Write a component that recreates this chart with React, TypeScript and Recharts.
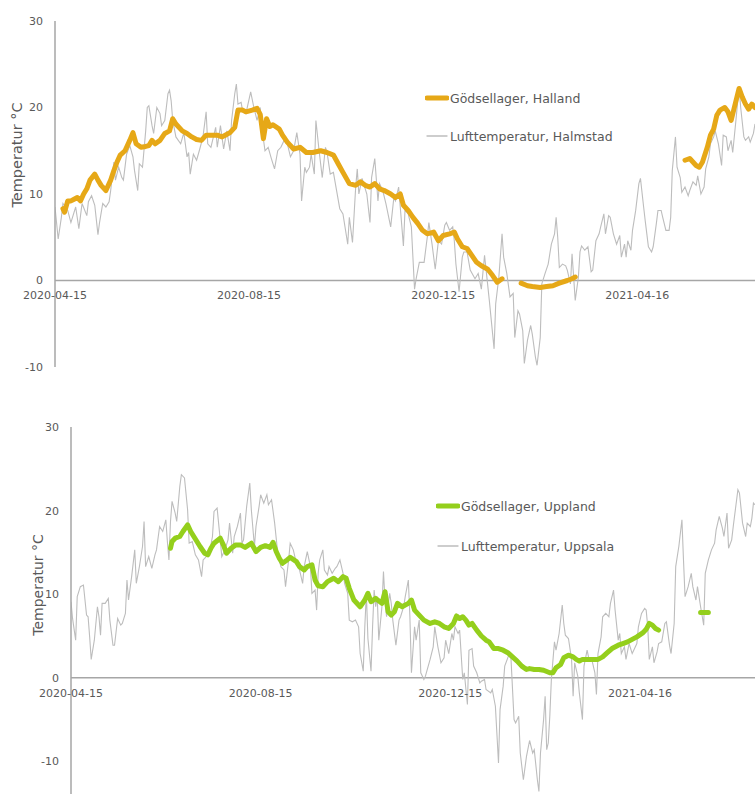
import { LineChart, Line, XAxis, YAxis, ReferenceLine, ReferenceDot } from 'recharts';

// days counted from 2020-04-15
const tickDays = [0, 122, 244, 366];
const tickLabels = ['2020-04-15', '2020-08-15', '2020-12-15', '2021-04-16'];
const yTicksTop = [-10, 0, 10, 20, 30];
const yTicksBottom = [-10, 0, 10, 20, 30];

const legendHalland = ['Gödsellager, Halland', 'Lufttemperatur, Halmstad'];
const legendUppland = ['Gödsellager, Uppland', 'Lufttemperatur, Uppsala'];

type Pt = [number, number | null];

const halmstadAir: Pt[] = [
  [0, 8.5], [2, 4.8], [4, 7.3], [5, 8.9], [8, 8.1], [10, 6.7], [13, 8.5], [15, 6.0], [17, 8.9], [20, 7.5],
  [21, 9.1], [23, 9.8], [25, 8.7], [27, 5.3], [28, 6.7], [30, 8.9], [32, 8.5], [34, 9.1], [35, 10.4], [37, 13.7],
  [38, 11.6], [40, 13.1], [42, 11.9], [43, 11.6], [45, 14.6], [47, 15.6], [49, 14.3], [50, 12.7], [52, 10.4], [53, 13.5],
  [55, 13.1], [57, 17.3], [58, 20.0], [59, 20.2], [61, 17.9], [62, 17.0], [64, 20.0], [66, 19.3], [67, 17.9], [69, 18.5],
  [71, 21.6], [72, 22.0], [73, 20.8], [74, 18.5], [76, 16.6], [79, 15.8], [81, 17.1], [83, 14.3], [84, 14.8], [85, 12.3],
  [87, 14.6], [89, 13.9], [91, 15.2], [93, 16.6], [95, 19.5], [96, 15.8], [98, 15.4], [101, 17.7], [102, 15.4], [104, 17.9],
  [106, 15.2], [108, 17.3], [110, 15.0], [111, 18.5], [113, 21.6], [114, 22.7], [115, 20.4], [117, 20.6], [118, 19.5], [120, 19.3],
  [123, 21.8], [125, 20.0], [127, 18.5], [129, 20.0], [130, 17.7], [132, 15.0], [134, 15.4], [136, 14.1], [138, 12.9], [140, 15.0],
  [142, 15.4], [145, 16.6], [148, 14.3], [150, 15.0], [152, 17.1], [154, 14.6], [155, 9.2], [157, 13.1], [158, 12.5], [160, 13.1],
  [161, 14.6], [163, 12.3], [164, 18.5], [166, 15.0], [168, 11.9], [170, 15.4], [171, 14.8], [173, 12.3], [175, 12.5], [177, 10.4],
  [179, 8.3], [181, 7.7], [184, 4.2], [185, 7.3], [187, 4.4], [189, 10.8], [190, 12.9], [191, 10.0], [193, 11.8], [196, 10.0],
  [198, 6.7], [199, 11.9], [201, 14.1], [203, 9.2], [204, 11.2], [206, 10.4], [208, 8.9], [211, 6.2], [213, 9.6], [214, 9.2],
  [216, 10.8], [219, 4.0], [220, 8.1], [222, 7.7], [224, 6.2], [226, -1.0], [227, 0.2], [229, 2.1], [232, 2.1], [234, 5.0],
  [235, 6.7], [237, 4.2], [239, 1.3], [241, 4.6], [243, 4.2], [245, 6.4], [246, 6.7], [248, 5.8], [250, 6.2], [251, 4.6],
  [252, 1.9], [254, -1.3], [256, 2.7], [257, 3.3], [259, 3.3], [261, 1.2], [264, 0.2], [266, 0.8], [268, -1.0], [270, 2.9],
  [271, 1.2], [273, -2.3], [276, -7.9], [277, -2.7], [279, 0.4], [281, 5.4], [282, 2.7], [284, 0.8], [286, -1.9], [288, -1.5],
  [289, -6.6], [291, -3.5], [292, -3.9], [294, -5.8], [295, -9.6], [297, -6.9], [299, -5.2], [300, -6.2], [302, -8.9], [303, -9.8],
  [305, -6.6], [306, -0.4], [308, 0.8], [310, 1.9], [312, 4.2], [314, 5.4], [315, 7.3], [316, 5.0], [317, 1.5], [319, 1.9],
  [321, 1.7], [322, 1.2], [324, -0.4], [325, 3.1], [327, -2.3], [329, 0.4], [330, 3.3], [331, 4.0], [333, 3.5], [335, 3.9],
  [337, 1.0], [338, 1.2], [340, 4.6], [342, 5.4], [343, 6.2], [345, 7.7], [346, 5.4], [348, 7.5], [349, 7.3], [351, 5.4],
  [353, 4.2], [355, 5.2], [356, 2.7], [358, 4.2], [359, 2.7], [360, 4.6], [362, 3.5], [363, 5.8], [365, 8.1], [367, 11.2],
  [368, 11.8], [370, 8.5], [371, 6.9], [373, 3.9], [375, 3.3], [376, 3.9], [378, 6.6], [379, 8.1], [381, 8.1], [382, 7.3],
  [384, 5.8], [386, 5.8], [387, 7.3], [388, 12.7], [390, 16.6], [391, 13.1], [393, 11.9], [394, 10.2], [396, 10.8], [398, 9.8],
  [399, 10.4], [401, 11.4], [403, 11.0], [404, 12.1], [406, 10.0], [408, 10.8], [409, 12.9], [411, 14.3], [412, 15.8], [414, 16.6],
  [415, 17.3], [417, 15.8], [419, 13.3], [420, 16.8], [422, 16.6], [423, 15.0], [425, 16.2], [426, 14.8], [428, 18.5], [430, 22.4],
  [431, 20.0], [433, 16.6], [434, 16.2], [436, 16.6], [437, 16.0], [439, 17.0], [440, 18.1],
];

const hallandManure: Pt[] = [
  [5, 8.3], [6, 7.9], [8, 9.2], [10, 9.2], [12, 9.4], [14, 9.6], [16, 9.2], [18, 10.0], [20, 10.6], [22, 11.6],
  [25, 12.3], [27, 11.6], [29, 11.0], [32, 10.4], [35, 11.6], [37, 12.7], [39, 13.7], [41, 14.5], [44, 15.0], [47, 16.2],
  [49, 17.1], [51, 15.8], [54, 15.4], [57, 15.5], [59, 15.6], [61, 16.2], [63, 15.8], [66, 16.2], [69, 17.0], [72, 17.3],
  [74, 18.7], [76, 18.1], [80, 17.3], [83, 17.0], [86, 16.6], [89, 16.3], [92, 16.2], [95, 16.8], [98, 16.8], [102, 16.8],
  [105, 16.6], [107, 16.8], [110, 17.1], [113, 17.7], [115, 19.7], [118, 19.7], [120, 19.5], [124, 19.7], [127, 19.9], [129, 19.2],
  [131, 16.4], [133, 18.7], [135, 17.8], [137, 18.0], [141, 17.5], [143, 16.8], [146, 16.0], [150, 15.2], [154, 15.4], [158, 14.8],
  [162, 14.8], [167, 15.0], [171, 14.8], [175, 14.5], [178, 13.5], [181, 12.5], [185, 11.2], [189, 11.0], [192, 11.4], [195, 11.0],
  [198, 10.8], [201, 11.2], [204, 10.6], [207, 10.4], [211, 10.0], [214, 9.6], [217, 10.0], [219, 8.7], [222, 8.1], [225, 7.3],
  [228, 6.6], [231, 5.8], [234, 5.4], [238, 5.6], [241, 4.6], [244, 5.2], [248, 5.4], [251, 5.6], [253, 4.8], [256, 3.9],
  [259, 3.7], [262, 2.9], [265, 2.1], [268, 1.7], [272, 1.3], [275, 0.6], [278, -0.2], [281, 0.2],
  [287, null],
  [293, -0.3], [297, -0.6], [300, -0.7], [305, -0.8], [309, -0.7], [313, -0.6], [317, -0.3], [322, 0.0], [325, 0.2], [327, 0.4],
  [360, null],
  [396, 13.9], [399, 14.1], [401, 13.7], [403, 13.3], [405, 13.1], [407, 13.7], [410, 15.4], [412, 16.8], [414, 17.5], [416, 19.1],
  [418, 19.7], [421, 20.0], [423, 19.5], [425, 18.5], [427, 20.0], [430, 22.2], [432, 21.2], [434, 20.4], [436, 19.8], [438, 20.4],
  [440, 20.0],
];

const uppsalaAir: Pt[] = [
  [0, 9.1], [1, 7.1], [3, 4.5], [4, 9.7], [6, 10.9], [8, 11.1], [10, 7.5], [11, 7.3], [12, 4.9], [13, 2.2],
  [15, 4.5], [17, 8.5], [18, 7.3], [19, 5.1], [20, 8.9], [22, 8.9], [24, 9.5], [25, 6.9], [27, 3.9], [28, 3.9],
  [30, 7.1], [32, 6.3], [33, 6.5], [35, 7.7], [36, 11.7], [37, 9.3], [39, 12.1], [41, 15.3], [42, 11.3], [44, 13.3],
  [46, 15.7], [47, 18.7], [48, 13.3], [50, 14.5], [52, 13.1], [54, 14.7], [55, 15.3], [57, 18.1], [59, 17.5], [61, 18.9],
  [62, 16.3], [63, 14.1], [64, 18.7], [65, 21.1], [67, 19.7], [68, 18.7], [70, 22.9], [71, 24.3], [73, 23.9], [75, 20.1],
  [76, 16.1], [78, 16.3], [80, 14.7], [82, 14.1], [84, 12.1], [85, 14.1], [87, 14.5], [89, 14.9], [91, 16.9], [92, 19.9],
  [94, 20.3], [96, 16.5], [97, 14.5], [99, 15.3], [101, 16.5], [102, 18.5], [104, 14.9], [105, 16.9], [107, 18.1], [109, 19.7],
  [110, 16.1], [111, 16.5], [113, 20.5], [115, 23.3], [116, 20.1], [118, 15.7], [119, 18.1], [121, 20.5], [122, 21.9], [124, 20.9],
  [126, 21.9], [127, 20.7], [129, 21.3], [131, 18.5], [133, 14.9], [135, 13.3], [137, 12.9], [138, 10.9], [140, 14.1], [141, 16.1],
  [143, 15.3], [145, 13.7], [147, 12.9], [149, 11.3], [150, 13.3], [152, 15.1], [154, 13.3], [155, 10.1], [157, 10.5], [158, 8.1],
  [159, 12.5], [160, 14.1], [162, 15.3], [163, 12.9], [165, 12.3], [166, 13.3], [168, 12.5], [170, 13.1], [171, 13.3], [173, 14.1],
  [175, 12.5], [176, 11.3], [178, 10.1], [179, 6.9], [181, 6.7], [183, 6.9], [185, 6.1], [186, 2.9], [188, 0.8], [189, 6.1],
  [190, 10.1], [191, 4.7], [193, 0.8], [194, 6.1], [195, 10.5], [196, 8.5], [197, 9.7], [198, 4.5], [200, 8.5], [201, 12.7],
  [202, 9.3], [203, 7.3], [205, 10.1], [206, 8.9], [207, 6.9], [209, 3.9], [211, 6.9], [212, 7.3], [214, 8.5], [215, 9.7],
  [217, 11.7], [218, 7.3], [219, 0.6], [221, 6.1], [222, 4.5], [224, 6.9], [225, 0.6], [227, -0.2], [228, 0.2], [231, 2.2],
  [233, 3.7], [234, 6.1], [236, 3.7], [238, 1.8], [240, 2.4], [241, 4.5], [243, 2.9], [245, 5.3], [246, 4.5], [247, 6.1],
  [249, 5.3], [250, 5.7], [252, -0.2], [253, 0.6], [255, -3.2], [256, 3.3], [258, 3.5], [259, 1.4], [261, 0.6], [263, -0.6],
  [264, -0.4], [266, -0.2], [267, -1.4], [270, -1.8], [271, -1.4], [273, -3.4], [275, -10.2], [276, -3.8], [278, -1.0], [279, 1.4],
  [282, 2.9], [283, 2.4], [285, -5.0], [286, -5.4], [288, -4.6], [289, -9.0], [291, -12.2], [293, -9.4], [295, -7.5], [297, -9.0],
  [298, -8.6], [300, -12.2], [301, -13.6], [302, -9.0], [304, -5.0], [305, -2.2], [306, -8.6], [307, -7.8], [308, -4.6], [309, -0.2],
  [311, 4.3], [312, 3.3], [314, 5.3], [316, 8.7], [317, 6.5], [318, 5.1], [320, 4.7], [322, 2.2], [323, -2.2], [324, 1.8],
  [326, 0.2], [327, -1.8], [329, -5.0], [330, 1.4], [332, 3.3], [333, 2.4], [335, 2.2], [337, 0.6], [338, -2.0], [339, 2.9],
  [341, 4.9], [342, 7.3], [344, 7.7], [346, 7.3], [347, 8.9], [349, 10.5], [350, 8.1], [352, 4.5], [353, 5.3], [354, 2.9],
  [356, 3.7], [357, 2.2], [359, 4.1], [361, 2.9], [362, 3.3], [364, 4.1], [365, 6.1], [367, 7.7], [369, 8.3], [370, 8.1],
  [371, 6.1], [372, 2.2], [374, 3.7], [375, 1.8], [377, 3.1], [378, 4.1], [380, 4.3], [382, 6.5], [383, 6.7], [385, 3.9],
  [386, 2.9], [388, 6.5], [389, 13.3], [391, 15.7], [393, 18.9], [394, 14.1], [395, 9.7], [397, 10.9], [399, 12.5], [400, 10.9],
  [402, 9.3], [403, 10.9], [405, 8.5], [407, 6.3], [408, 12.5], [410, 14.1], [412, 15.3], [414, 16.1], [415, 17.7], [417, 19.3],
  [419, 17.9], [420, 16.9], [422, 19.7], [423, 15.5], [425, 16.5], [426, 18.1], [429, 22.5], [430, 22.1], [432, 18.5], [434, 16.9],
  [435, 18.5], [437, 18.1], [438, 19.1], [439, 20.9], [440, 20.7],
];

const upplandManure: Pt[] = [
  [64, 15.5], [65, 16.3], [67, 16.7], [70, 16.9], [72, 17.5], [75, 18.3], [77, 17.5], [79, 16.9], [81, 16.3], [83, 15.7],
  [86, 14.9], [88, 14.7], [90, 15.5], [92, 16.1], [96, 16.7], [98, 15.9], [100, 14.9], [103, 15.5], [106, 15.9], [109, 15.9],
  [112, 15.6], [116, 16.1], [119, 15.1], [122, 15.6], [125, 15.8], [128, 15.6], [130, 16.2], [132, 15.1], [134, 14.3], [136, 13.7],
  [139, 14.1], [141, 14.4], [145, 13.9], [147, 13.3], [150, 12.9], [152, 13.3], [155, 13.5], [157, 11.7], [159, 11.0], [162, 10.9],
  [165, 11.5], [169, 11.9], [172, 11.5], [175, 12.1], [177, 11.9], [179, 10.7], [182, 9.3], [186, 8.5], [189, 9.3], [191, 10.1],
  [193, 9.1], [196, 9.5], [200, 8.9], [202, 10.3], [204, 7.9], [206, 7.5], [208, 7.9], [210, 8.9], [213, 8.5], [217, 8.9],
  [219, 9.3], [221, 8.1], [224, 7.5], [227, 6.9], [231, 6.5], [234, 6.7], [237, 6.5], [240, 6.1], [243, 5.9], [246, 6.5],
  [248, 7.4], [250, 7.1], [252, 7.3], [254, 6.9], [256, 6.3], [258, 6.5], [261, 5.7], [264, 5.0], [267, 4.5], [269, 4.3],
  [272, 3.5], [275, 3.5], [278, 3.3], [281, 3.0], [284, 2.5], [287, 2.0], [290, 1.4], [293, 1.0], [295, 1.1], [298, 1.0],
  [301, 1.0], [304, 0.9], [308, 0.6], [310, 0.6], [312, 1.2], [315, 1.6], [317, 2.4], [320, 2.7], [323, 2.5], [325, 2.2],
  [327, 2.0], [329, 2.2], [332, 2.2], [336, 2.2], [339, 2.2], [342, 2.5], [345, 3.0], [348, 3.5], [352, 3.9], [355, 4.1],
  [358, 4.3], [361, 4.6], [364, 4.9], [368, 5.4], [370, 5.8], [372, 6.5], [374, 6.3], [376, 5.9], [378, 5.7],
  [390, null],
  [405, 7.8], [410, 7.8],
];

const FONT = '"DejaVu Sans", Verdana, sans-serif';
const TEXT = '#595959';
const AXIS = '#A6A6A6';
const AIR = '#BDBDBD';
const GOLD = '#E6A817';
const GREEN = '#94CF1C';

const toRows = (pts: Pt[]) => pts.map(([day, t]) => ({ day, t }));

function Legend2({ names, color, top, left, gap }: { names: string[]; color: string; top: number; left: number; gap: number }) {
  const styles = [
    { stroke: color, w: 5 },
    { stroke: AIR, w: 1.3 },
  ];
  return (
    <div style={{ position: 'absolute', top, left, fontFamily: FONT, fontSize: 12.5, color: TEXT }}>
      {names.map((n, i) => (
        <div key={n} style={{ display: 'flex', alignItems: 'center', height: gap, whiteSpace: 'nowrap' }}>
          <svg width={24} height={8} style={{ display: 'block' }}>
            <line x1={2} x2={22} y1={4} y2={4} stroke={styles[i].stroke} strokeWidth={styles[i].w} strokeLinecap="round" />
          </svg>
          <span style={{ marginLeft: 1 }}>{n}</span>
        </div>
      ))}
    </div>
  );
}

function TempChart({
  air,
  manure,
  color,
  height,
  axisWidth,
  margin,
  yDomain,
  yTicks,
  labelPos,
  labelSize,
}: {
  air: Pt[];
  manure: Pt[];
  color: string;
  height: number;
  axisWidth: number;
  margin: { top: number; right: number; bottom: number; left: number };
  yDomain: [number, number];
  yTicks: number[];
  labelPos: [number, number];
  labelSize: number;
}) {
  const [lx, ly] = labelPos;
  return (
    <LineChart width={755} height={height} margin={margin}>
      <XAxis type="number" dataKey="day" domain={[0, 440]} hide allowDataOverflow />
      <YAxis
        type="number"
        domain={yDomain}
        ticks={yTicks}
        interval={0}
        width={axisWidth}
        allowDataOverflow
        axisLine={{ stroke: AXIS, strokeWidth: 1.5 }}
        tickLine={false}
        tickSize={0}
        tickMargin={12}
        tick={{ fill: TEXT, fontSize: 11, fontFamily: FONT }}
        label={{
          content: () => (
            <text
              x={lx}
              y={ly}
              transform={`rotate(-90 ${lx} ${ly})`}
              textAnchor="middle"
              dominantBaseline="central"
              fill={TEXT}
              fontSize={labelSize}
              fontFamily={FONT}
            >
              Temperatur °C
            </text>
          ),
        }}
      />
      <ReferenceLine y={0} stroke={AXIS} strokeWidth={1.5} />
      {tickDays.map((d, i) => (
        <ReferenceDot
          key={d}
          x={d}
          y={0}
          r={0}
          fill="none"
          stroke="none"
          label={{ value: tickLabels[i], position: 'bottom', offset: 11, fill: TEXT, fontSize: 11, fontFamily: FONT }}
        />
      ))}
      <Line
        data={toRows(air)}
        dataKey="t"
        type="linear"
        stroke={AIR}
        strokeWidth={1.1}
        dot={false}
        activeDot={false}
        isAnimationActive={false}
      />
      <Line
        data={toRows(manure)}
        dataKey="t"
        type="linear"
        stroke={color}
        strokeWidth={5}
        strokeLinecap="round"
        strokeLinejoin="round"
        dot={false}
        activeDot={false}
        isAnimationActive={false}
      />
    </LineChart>
  );
}

export default function App() {
  return (
    <div style={{ position: 'fixed', left: 0, top: 0, width: 755, height: 794, overflow: 'hidden', background: '#fff' }}>
      <div style={{ position: 'absolute', left: 0, top: 0 }}>
        <TempChart
          air={halmstadAir}
          manure={hallandManure}
          color={GOLD}
          height={390}
          axisWidth={55}
          margin={{ top: 21, right: 0, bottom: 23, left: 0 }}
          yDomain={[-10, 30]}
          yTicks={yTicksTop}
          labelPos={[17, 155]}
          labelSize={14.5}
        />
        <Legend2 names={legendHalland} color={GOLD} top={79} left={425} gap={38} />
      </div>
      <div style={{ position: 'absolute', left: 0, top: 415 }}>
        <TempChart
          air={uppsalaAir}
          manure={upplandManure}
          color={GREEN}
          height={440}
          axisWidth={71}
          margin={{ top: 12, right: 0, bottom: 10, left: 0 }}
          yDomain={[-20, 30]}
          yTicks={yTicksBottom}
          labelPos={[38, 170]}
          labelSize={14}
        />
        <Legend2 names={legendUppland} color={GREEN} top={71} left={436} gap={40} />
      </div>
    </div>
  );
}
